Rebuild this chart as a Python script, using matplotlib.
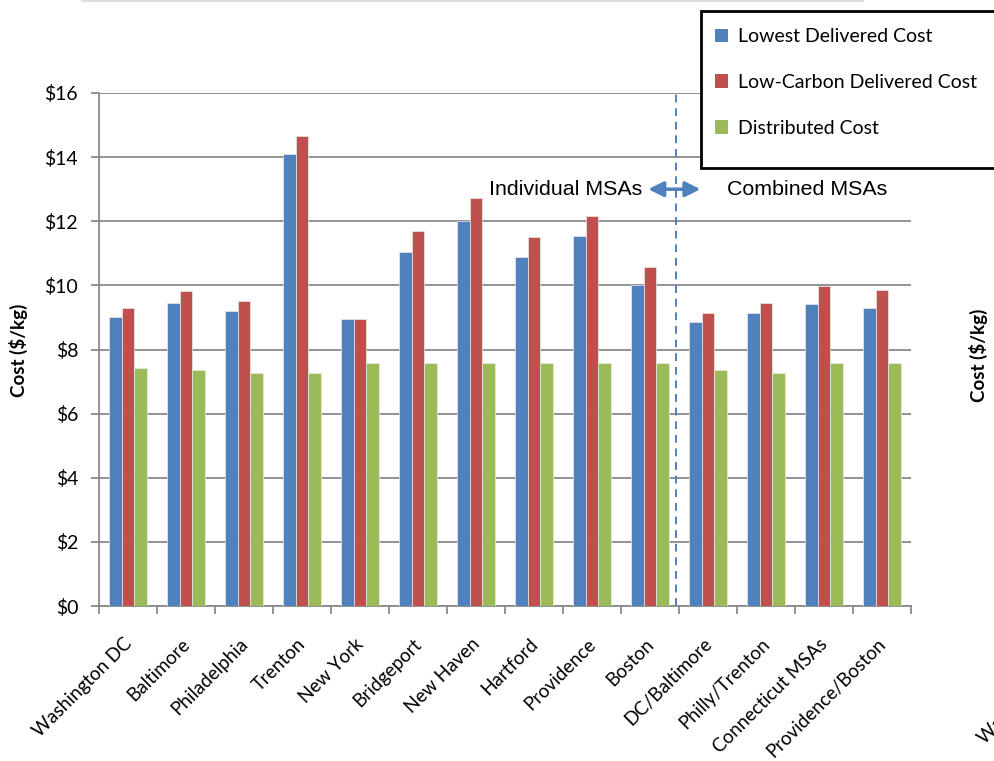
import matplotlib
matplotlib.use("Agg")
import matplotlib.pyplot as plt
import matplotlib.transforms as mtransforms
import numpy as np
from matplotlib.patches import Patch, Rectangle
from matplotlib.lines import Line2D

# Hydrogen cost by metropolitan statistical area ($/kg)
categories = ["Washington DC", "Baltimore", "Philadelphia", "Trenton", "New York",
              "Bridgeport", "New Haven", "Hartford", "Providence", "Boston",
              "DC/Baltimore", "Philly/Trenton", "Connecticut MSAs", "Providence/Boston"]
lowest_delivered = [9.00, 9.45, 9.20, 14.10, 8.94, 11.03, 12.00, 10.89, 11.54, 10.01,
                    8.85, 9.15, 9.41, 9.30]
low_carbon_delivered = [9.30, 9.82, 9.50, 14.66, 8.94, 11.70, 12.72, 11.50, 12.17, 10.57,
                        9.15, 9.45, 9.97, 9.86]
distributed = [7.41, 7.36, 7.26, 7.26, 7.57, 7.57, 7.57, 7.57, 7.57, 7.57,
               7.36, 7.26, 7.57, 7.57]
series_names = ["Lowest Delivered Cost", "Low-Carbon Delivered Cost", "Distributed Cost"]
y_ticks = [0, 2, 4, 6, 8, 10, 12, 14, 16]
y_tick_labels = ["$0", "$2", "$4", "$6", "$8", "$10", "$12", "$14", "$16"]

BLUE, RED, GREEN = "#4F81BD", "#C0504D", "#9BBB59"
GRID = "#8a8a8a"
LABEL_FONT = ["Lato", "DejaVu Sans"]
ARIAL = ["Liberation Sans", "DejaVu Sans"]

W, H = 994, 761
fig = plt.figure(figsize=(W / 100, H / 100), dpi=100)
ax = fig.add_axes([99 / W, 1 - 606 / H, (911 - 99) / W, (606 - 93) / H])

x = np.arange(len(categories))
bw = 0.22
for off, vals, col in zip((-bw, 0, bw), (lowest_delivered, low_carbon_delivered, distributed),
                          (BLUE, RED, GREEN)):
    ax.bar(x + off, vals, width=bw, color=col, edgecolor="#eaeaea", linewidth=0.5, zorder=3)

ax.set_xlim(-0.5, len(categories) - 0.5)
ax.set_ylim(0, 16)
ax.set_yticks(y_ticks)
ax.set_yticklabels(y_tick_labels, fontfamily=LABEL_FONT, fontsize=14)
ax.yaxis.grid(True, color=GRID, linewidth=1.3, zorder=0)
ax.tick_params(axis="y", length=6, width=1.3, color=GRID, pad=9)

# category labels at centres, tick marks between categories
ax.set_xticks(x)
ax.set_xticklabels(categories, rotation=45, ha="right", rotation_mode="anchor",
                   fontfamily=LABEL_FONT, fontsize=13.5)
ax.tick_params(axis="x", which="major", length=0, pad=21)
shift = mtransforms.ScaledTranslation(-5 / 100, 0, fig.dpi_scale_trans)
for lbl in ax.get_xticklabels():
    lbl.set_transform(lbl.get_transform() + shift)
ax.set_xticks(np.arange(-0.5, len(categories)), minor=True)
ax.tick_params(axis="x", which="minor", length=6, width=1.3, color=GRID)

for side in ("top", "right"):
    ax.spines[side].set_visible(False)
for side in ("left", "bottom"):
    ax.spines[side].set_color(GRID)
    ax.spines[side].set_linewidth(1.3)

ax.set_ylabel("Cost ($/kg)", fontfamily=LABEL_FONT, fontweight="bold", fontsize=13.5)
ax.yaxis.set_label_coords((28 - 99) / (911 - 99), (606 - 350) / (606 - 93))

# divider between individual and combined MSAs
ax.plot([9.45, 9.45], [0, 16.1], color=BLUE, linestyle=(0, (4, 3)), linewidth=1.4,
        clip_on=False, zorder=4)
ax.annotate("", xy=(8.97, 13.0), xytext=(9.87, 13.0),
            arrowprops=dict(arrowstyle="<|-|>,head_length=0.9,head_width=0.45",
                            color=BLUE, lw=2.5, shrinkA=0, shrinkB=0))
ax.text(8.86, 13.0, "Individual MSAs", ha="right", va="center",
        fontfamily=ARIAL, fontsize=15.4)
ax.text(10.32, 13.0, "Combined MSAs", ha="left", va="center",
        fontfamily=ARIAL, fontsize=15.4)

# legend box, running off the right edge
fig.patches.append(Rectangle((701 / W, 1 - 168 / H), (1010 - 701) / W, (168 - 11) / H,
                             transform=fig.transFigure, facecolor="white",
                             edgecolor="black", linewidth=2, zorder=5))
handles = [Patch(facecolor=c, edgecolor="none") for c in (BLUE, RED, GREEN)]
leg = fig.legend(handles, series_names, loc="upper left",
                 bbox_to_anchor=(697 / W, 1 - 11 / H), frameon=False,
                 prop=dict(family=LABEL_FONT, size=14), handlelength=0.7,
                 handleheight=0.7, handletextpad=0.5, labelspacing=1.47)
leg.set_zorder(6)

# neighbouring panel fragments at the right edge
fig.text(978 / W, 1 - 355 / H, "Cost ($/kg)", rotation=90, ha="center", va="center",
         fontfamily=LABEL_FONT, fontweight="bold", fontsize=13.5)
fig.text(975 / W, 1 - 747 / H, "Washington DC", rotation=45, ha="left", va="bottom",
         fontfamily=LABEL_FONT, fontsize=13.5)
fig.lines.append(Line2D([82 / W, 863 / W], [1 - 0.8 / H, 1 - 0.8 / H],
                        transform=fig.transFigure, color="#dddddd", linewidth=1.5))

fig.savefig("out.png", dpi=100)
